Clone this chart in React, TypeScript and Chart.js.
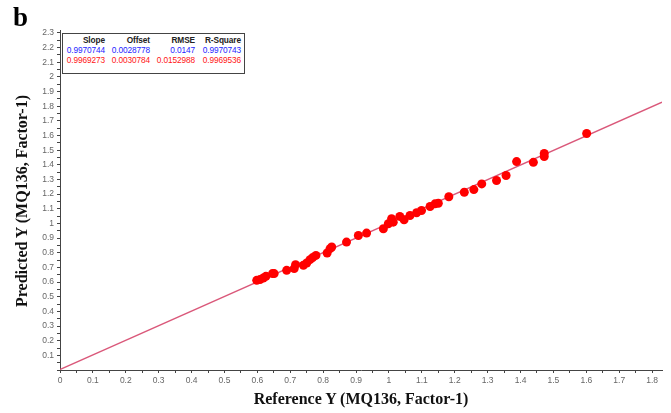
import React, { useEffect, useRef } from "react";
import { Chart, registerables } from "chart.js";

Chart.register(...registerables);

const referenceY = [0.598, 0.608, 0.618, 0.626, 0.646, 0.651, 0.689, 0.712, 0.716, 0.740, 0.750, 0.760, 0.768, 0.778, 0.812, 0.821, 0.826, 0.871, 0.907, 0.932, 0.983, 0.998, 1.008, 1.013, 1.033, 1.046, 1.064, 1.084, 1.099, 1.125, 1.140, 1.150, 1.182, 1.229, 1.258, 1.282, 1.327, 1.356, 1.388, 1.439, 1.472, 1.472, 1.601];
const predictedY = [0.612, 0.617, 0.628, 0.639, 0.658, 0.658, 0.680, 0.692, 0.719, 0.714, 0.730, 0.753, 0.767, 0.782, 0.798, 0.828, 0.839, 0.873, 0.918, 0.934, 0.964, 0.998, 1.032, 1.009, 1.048, 1.025, 1.054, 1.073, 1.088, 1.116, 1.134, 1.138, 1.182, 1.213, 1.231, 1.270, 1.293, 1.327, 1.422, 1.417, 1.478, 1.456, 1.614];

const statHeaders = ["Slope", "Offset", "RMSE", "R-Square"];
const calStats = ["0.9970744", "0.0028778", "0.0147", "0.9970743"];
const valStats = ["0.9969273", "0.0030784", "0.0152988", "0.9969536"];

const fitSlope = 0.9969273;
const fitOffset = 0.0030784;
const xMax = 1.83;
const yMax = 2.32;

const tickFmt = (v: number) => {
  const r = Math.round(v * 100);
  if (r % 10 !== 0) return "";
  return String(r / 100);
};

export default function App() {
  const ref = useRef<HTMLCanvasElement | null>(null);
  useEffect(() => {
    if (!ref.current) return;
    const pts = referenceY.map((x, i) => ({ x, y: predictedY[i] }));
    const line = [0, xMax].map((x) => ({ x, y: fitSlope * x + fitOffset }));
    const chart = new Chart(ref.current, {
      type: "scatter",
      data: {
        datasets: [
          {
            data: pts,
            backgroundColor: "rgb(255,0,0)",
            borderColor: "rgb(255,0,0)",
            pointRadius: 4.5,
            borderWidth: 0,
            order: 1,
          },
          {
            type: "line",
            data: line,
            borderColor: "rgb(218,88,122)",
            borderWidth: 1.3,
            pointRadius: 0,
            fill: false,
            order: 2,
          } as any,
        ],
      },
      options: {
        animation: false,
        responsive: false,
        maintainAspectRatio: false,
        layout: { padding: { left: 0, top: 30, right: 9, bottom: 0 } },
        plugins: { legend: { display: false }, tooltip: { enabled: false } },
        scales: {
          x: {
            type: "linear",
            min: 0,
            max: xMax,
            afterFit: (s: any) => {
              s.height = 43;
            },
            border: { color: "#444", width: 1 },
            grid: { drawOnChartArea: false, tickLength: 3, color: "#444" },
            ticks: {
              stepSize: 0.05,
              includeBounds: false,
              autoSkip: false,
              maxRotation: 0,
              padding: 3,
              color: "#666",
              font: { family: "Liberation Sans", size: 8.5 },
              callback: (v: any) => tickFmt(Number(v)),
            },
          },
          y: {
            type: "linear",
            min: 0,
            max: yMax,
            afterFit: (s: any) => {
              s.width = 60;
            },
            border: { color: "#444", width: 1 },
            grid: { drawOnChartArea: false, tickLength: 3, color: "#444" },
            ticks: {
              stepSize: 0.05,
              includeBounds: false,
              autoSkip: false,
              padding: 3,
              color: "#666",
              font: { family: "Liberation Sans", size: 8.5 },
              callback: (v: any) => (Number(v) === 0 ? "" : tickFmt(Number(v))),
            },
          },
        },
      },
    });
    return () => chart.destroy();
  }, []);

  const colRight = [105, 150, 195, 241];
  const rowTop = [35, 45, 55];
  const rows = [
    { vals: statHeaders, color: "#222", bold: true },
    { vals: calStats, color: "rgb(30,30,255)", bold: false },
    { vals: valStats, color: "rgb(255,20,20)", bold: false },
  ];

  return (
    <div style={{ position: "fixed", left: 0, top: 0, width: 671, height: 413, background: "#fff", overflow: "hidden" }}>
      <canvas ref={ref} width={671} height={413} style={{ position: "absolute", left: 0, top: 0, width: 671, height: 413 }} />
      <div style={{ position: "absolute", left: 13, top: 2, fontFamily: "Liberation Serif", fontWeight: "bold", fontSize: 27, lineHeight: "30px" }}>b</div>
      <div style={{ position: "absolute", left: 246, top: 389, width: 230, textAlign: "center", fontFamily: "Liberation Serif", fontWeight: "bold", fontSize: 16, lineHeight: "20px", whiteSpace: "nowrap", color: "#111" }}>
        Reference Y (MQ136, Factor-1)
      </div>
      <div style={{ position: "absolute", left: 22, top: 201, width: 0, height: 0 }}>
        <div style={{ position: "absolute", left: -150, top: -10, width: 300, textAlign: "center", transform: "rotate(-90deg)", fontFamily: "Liberation Serif", fontWeight: "bold", fontSize: 16, lineHeight: "20px", whiteSpace: "nowrap", color: "#111" }}>
          Predicted Y (MQ136, Factor-1)
        </div>
      </div>
      <div style={{ position: "absolute", left: 62, top: 33, width: 181, height: 39, border: "1px solid #444", background: "#fff" }} />
      {rows.map((r, ri) =>
        r.vals.map((t, ci) => (
          <div key={ri + "-" + ci} style={{ position: "absolute", right: 671 - colRight[ci], top: rowTop[ri], fontFamily: "Liberation Sans", fontSize: 8.3, lineHeight: "10px", fontWeight: r.bold ? "bold" : "normal", color: r.color, whiteSpace: "nowrap", letterSpacing: -0.1 }}>
            {t}
          </div>
        ))
      )}
    </div>
  );
}
